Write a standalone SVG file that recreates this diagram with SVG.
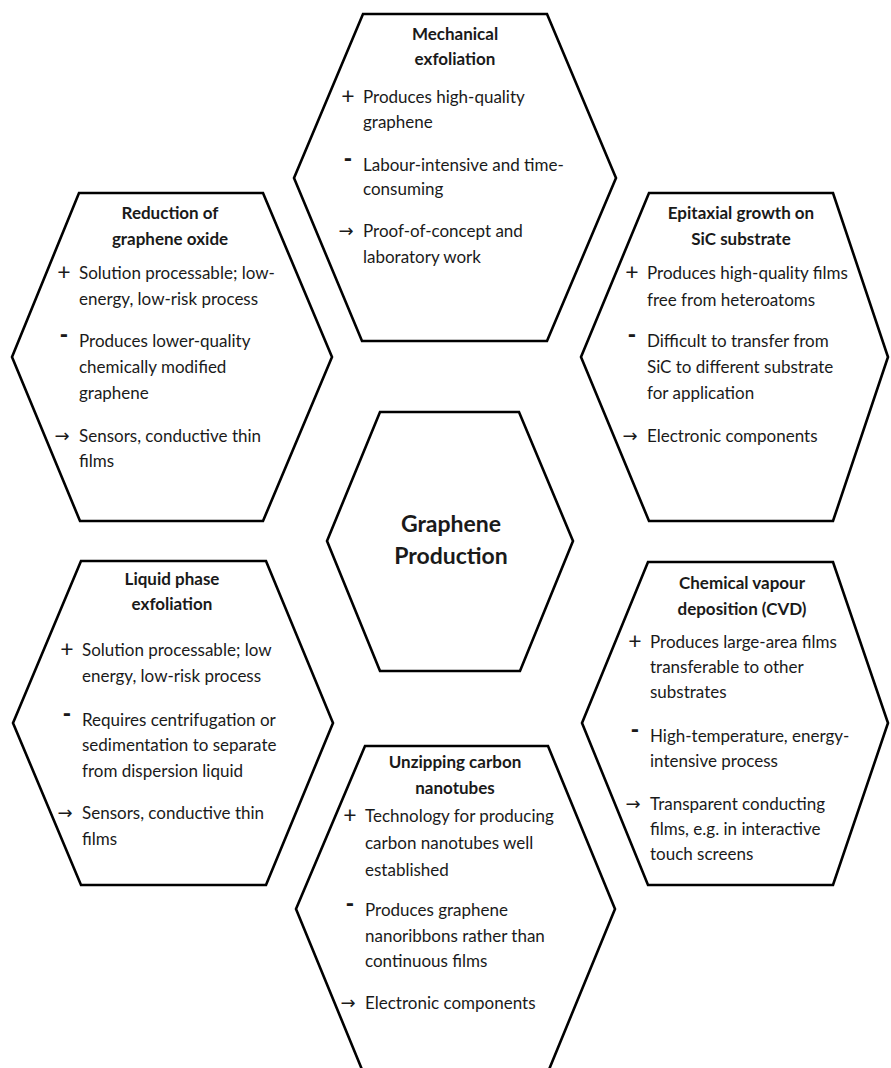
<svg xmlns="http://www.w3.org/2000/svg" width="891" height="1068" viewBox="0 0 891 1068">
<style>
.hex{fill:#fff;stroke:#000;stroke-width:2.6;stroke-linejoin:miter}
.t{font-family:Lato,"DejaVu Sans",sans-serif;font-size:17px;font-weight:bold;fill:#1a1a1a;text-anchor:middle}
.i{font-family:Lato,"DejaVu Sans",sans-serif;font-size:17px;fill:#1a1a1a}
.b{font-family:Lato,"DejaVu Sans",sans-serif;font-size:23px;fill:#1a1a1a;text-anchor:middle}
.m{font-family:"DejaVu Sans",sans-serif;font-size:20px;font-weight:bold;fill:#1a1a1a;text-anchor:middle}
.a{font-family:"DejaVu Sans",sans-serif;font-size:18px;fill:#1a1a1a;text-anchor:middle}
.c{font-family:Lato,"DejaVu Sans",sans-serif;font-size:23px;font-weight:bold;fill:#1a1a1a;text-anchor:middle}
</style>
<rect width="891" height="1068" fill="#fff"/>
<g id="connectors"/>
<g id="node-mechanical">
<polygon class="hex" points="363,14 547,14 616,178 547,341 362,341 294,178"/>
<text class="t" x="455" y="40">Mechanical</text>
<text class="t" x="455" y="65">exfoliation</text>
<text class="b" x="348" y="104">+</text>
<text class="i" x="363" y="103">Produces high-quality</text>
<text class="i" x="363" y="128">graphene</text>
<text class="m" x="348" y="165">-</text>
<text class="i" x="363" y="171">Labour-intensive and time-</text>
<text class="i" x="363" y="195">consuming</text>
<text class="a" x="346" y="237">→</text>
<text class="i" x="363" y="237">Proof-of-concept and</text>
<text class="i" x="363" y="263">laboratory work</text>
</g>
<g id="node-reduction">
<polygon class="hex" points="79,193 263,193 332,357 263,521 80,521 12,357"/>
<text class="t" x="170" y="219">Reduction of</text>
<text class="t" x="170" y="245">graphene oxide</text>
<text class="b" x="64" y="280">+</text>
<text class="i" x="79" y="279">Solution processable; low-</text>
<text class="i" x="79" y="305">energy, low-risk process</text>
<text class="m" x="64" y="341">-</text>
<text class="i" x="79" y="347">Produces lower-quality</text>
<text class="i" x="79" y="373">chemically modified</text>
<text class="i" x="79" y="399">graphene</text>
<text class="a" x="62" y="442">→</text>
<text class="i" x="79" y="442">Sensors, conductive thin</text>
<text class="i" x="79" y="467">films</text>
</g>
<g id="node-epitaxial">
<polygon class="hex" points="649,193 833,193 888,357 833,521 649,521 581,357"/>
<text class="t" x="741" y="219">Epitaxial growth on</text>
<text class="t" x="741" y="245">SiC substrate</text>
<text class="b" x="632" y="280">+</text>
<text class="i" x="647" y="279">Produces high-quality films</text>
<text class="i" x="647" y="306">free from heteroatoms</text>
<text class="m" x="632" y="341">-</text>
<text class="i" x="647" y="347">Difficult to transfer from</text>
<text class="i" x="647" y="373">SiC to different substrate</text>
<text class="i" x="647" y="399">for application</text>
<text class="a" x="630" y="442">→</text>
<text class="i" x="647" y="442">Electronic components</text>
</g>
<g id="node-center">
<polygon class="hex" points="380,412 519,412 573,541 520,671 380,671 327,541"/>
<text class="c" x="451" y="532">Graphene</text>
<text class="c" x="451" y="564">Production</text>
</g>
<g id="node-liquid">
<polygon class="hex" points="81,561 266,561 333,723 266,885 81,885 13,723"/>
<text class="t" x="172" y="585">Liquid phase</text>
<text class="t" x="172" y="610">exfoliation</text>
<text class="b" x="67" y="657">+</text>
<text class="i" x="82" y="656">Solution processable; low</text>
<text class="i" x="82" y="682">energy, low-risk process</text>
<text class="m" x="67" y="720">-</text>
<text class="i" x="82" y="726">Requires centrifugation or</text>
<text class="i" x="82" y="751">sedimentation to separate</text>
<text class="i" x="82" y="777">from dispersion liquid</text>
<text class="a" x="65" y="819">→</text>
<text class="i" x="82" y="819">Sensors, conductive thin</text>
<text class="i" x="82" y="845">films</text>
</g>
<g id="node-cvd">
<polygon class="hex" points="648,562 833,562 888,723 833,885 648,885 582,723"/>
<text class="t" x="742" y="589">Chemical vapour</text>
<text class="t" x="742" y="615">deposition (CVD)</text>
<text class="b" x="635" y="649">+</text>
<text class="i" x="650" y="648">Produces large-area films</text>
<text class="i" x="650" y="673">transferable to other</text>
<text class="i" x="650" y="698">substrates</text>
<text class="m" x="635" y="736">-</text>
<text class="i" x="650" y="742">High-temperature, energy-</text>
<text class="i" x="650" y="767">intensive process</text>
<text class="a" x="633" y="810">→</text>
<text class="i" x="650" y="810">Transparent conducting</text>
<text class="i" x="650" y="835">films, e.g. in interactive</text>
<text class="i" x="650" y="860">touch screens</text>
</g>
<g id="node-unzipping">
<polygon class="hex" points="365,746 548,746 615,909 548,1072 363,1072 296,909"/>
<text class="t" x="455" y="768">Unzipping carbon</text>
<text class="t" x="455" y="794">nanotubes</text>
<text class="b" x="350" y="823">+</text>
<text class="i" x="365" y="822">Technology for producing</text>
<text class="i" x="365" y="849">carbon nanotubes well</text>
<text class="i" x="365" y="876">established</text>
<text class="m" x="350" y="910">-</text>
<text class="i" x="365" y="916">Produces graphene</text>
<text class="i" x="365" y="942">nanoribbons rather than</text>
<text class="i" x="365" y="967">continuous films</text>
<text class="a" x="348" y="1009">→</text>
<text class="i" x="365" y="1009">Electronic components</text>
</g>
</svg>
